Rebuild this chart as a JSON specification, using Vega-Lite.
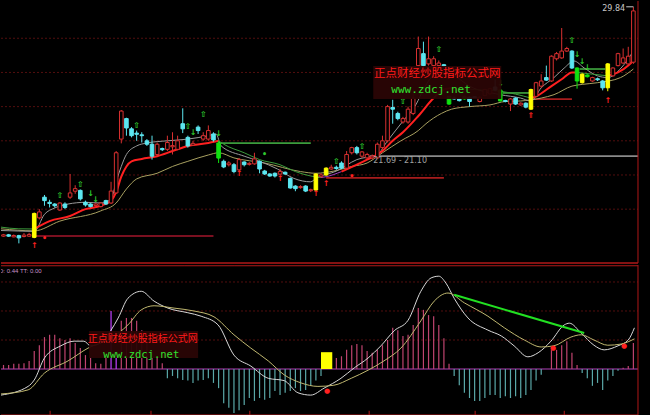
{
  "$schema": "https://vega.github.io/schema/vega-lite/v6.json",
  "background": "#000000",
  "padding": 0,
  "spacing": 0,
  "config": {"view": {"stroke": null}, "scale": {"continuousPadding": 0}},
  "datasets": {
    "candles": [
      {"i":0,"o":16.42,"c":16.5,"h":16.55,"l":16.38,"k":"up"},
      {"i":1,"o":16.5,"c":16.42,"h":16.55,"l":16.38,"k":"dn"},
      {"i":2,"o":16.38,"c":16.46,"h":16.52,"l":16.35,"k":"up"},
      {"i":3,"o":16.45,"c":16.32,"h":16.5,"l":16.0,"k":"dn"},
      {"i":4,"o":16.4,"c":16.48,"h":16.6,"l":16.35,"k":"up"},
      {"i":5,"o":16.42,"c":16.52,"h":16.62,"l":16.38,"k":"up"},
      {"i":6,"o":16.35,"c":17.75,"h":17.8,"l":16.3,"k":"yl"},
      {"i":7,"o":17.49,"c":17.84,"h":18.0,"l":17.4,"k":"up"},
      {"i":8,"o":18.7,"c":18.5,"h":18.83,"l":18.2,"k":"dn"},
      {"i":9,"o":18.4,"c":18.33,"h":18.55,"l":18.1,"k":"dn"},
      {"i":10,"o":18.3,"c":18.2,"h":18.35,"l":18.1,"k":"dn"},
      {"i":11,"o":17.95,"c":18.36,"h":18.4,"l":17.9,"k":"up"},
      {"i":12,"o":18.3,"c":18.1,"h":18.4,"l":18.0,"k":"dn"},
      {"i":13,"o":18.7,"c":18.95,"h":20.06,"l":18.6,"k":"up"},
      {"i":14,"o":19.05,"c":19.2,"h":19.4,"l":18.9,"k":"up"},
      {"i":15,"o":19.1,"c":18.6,"h":19.15,"l":18.5,"k":"dn"},
      {"i":16,"o":18.4,"c":18.25,"h":18.5,"l":18.15,"k":"dn"},
      {"i":17,"o":18.3,"c":18.15,"h":18.35,"l":18.1,"k":"dn"},
      {"i":18,"o":18.22,"c":18.3,"h":18.35,"l":18.2,"k":"up"},
      {"i":19,"o":18.15,"c":18.36,"h":18.4,"l":18.1,"k":"up"},
      {"i":20,"o":18.5,"c":18.3,"h":18.55,"l":18.25,"k":"dn"},
      {"i":21,"o":18.36,"c":19.06,"h":19.6,"l":18.3,"k":"up"},
      {"i":22,"o":18.95,"c":21.3,"h":21.4,"l":18.9,"k":"up"},
      {"i":23,"o":22.1,"c":23.74,"h":23.8,"l":21.85,"k":"up"},
      {"i":24,"o":23.3,"c":22.75,"h":23.35,"l":22.3,"k":"dn"},
      {"i":25,"o":22.7,"c":22.3,"h":22.8,"l":22.2,"k":"dn"},
      {"i":26,"o":22.45,"c":22.38,"h":22.6,"l":22.0,"k":"dn"},
      {"i":27,"o":22.35,"c":22.3,"h":22.5,"l":21.9,"k":"dn"},
      {"i":28,"o":22.0,"c":21.8,"h":22.1,"l":21.7,"k":"dn"},
      {"i":29,"o":21.8,"c":21.1,"h":22.3,"l":20.9,"k":"dn"},
      {"i":30,"o":21.2,"c":21.8,"h":21.9,"l":21.1,"k":"up"},
      {"i":31,"o":21.55,"c":21.48,"h":21.6,"l":21.4,"k":"dn"},
      {"i":32,"o":21.5,"c":21.9,"h":22.3,"l":21.4,"k":"up"},
      {"i":33,"o":21.65,"c":21.72,"h":22.5,"l":21.2,"k":"up"},
      {"i":34,"o":21.5,"c":22.0,"h":22.3,"l":21.45,"k":"up"},
      {"i":35,"o":23.0,"c":22.7,"h":23.9,"l":22.45,"k":"dn"},
      {"i":36,"o":22.2,"c":21.7,"h":22.3,"l":21.6,"k":"dn"},
      {"i":37,"o":21.75,"c":21.85,"h":22.0,"l":21.7,"k":"up"},
      {"i":38,"o":22.8,"c":22.6,"h":22.9,"l":22.4,"k":"dn"},
      {"i":39,"o":22.1,"c":22.3,"h":22.5,"l":22.0,"k":"up"},
      {"i":40,"o":22.1,"c":22.6,"h":22.9,"l":22.0,"k":"up"},
      {"i":41,"o":22.4,"c":22.05,"h":22.5,"l":21.95,"k":"dn"},
      {"i":42,"o":21.87,"c":20.99,"h":22.0,"l":20.7,"k":"gr"},
      {"i":43,"o":20.8,"c":20.47,"h":20.9,"l":20.4,"k":"dn"},
      {"i":44,"o":20.6,"c":20.7,"h":20.8,"l":20.5,"k":"up"},
      {"i":45,"o":20.6,"c":20.2,"h":20.7,"l":20.1,"k":"dn"},
      {"i":46,"o":20.3,"c":20.9,"h":21.0,"l":20.25,"k":"up"},
      {"i":47,"o":20.76,"c":20.6,"h":20.8,"l":20.5,"k":"dn"},
      {"i":48,"o":20.62,"c":20.68,"h":20.75,"l":20.55,"k":"up"},
      {"i":49,"o":20.65,"c":20.94,"h":21.3,"l":20.6,"k":"up"},
      {"i":50,"o":20.8,"c":20.35,"h":20.85,"l":20.1,"k":"dn"},
      {"i":51,"o":20.23,"c":20.06,"h":20.3,"l":20.0,"k":"dn"},
      {"i":52,"o":20.06,"c":19.94,"h":20.1,"l":19.9,"k":"dn"},
      {"i":53,"o":20.1,"c":19.94,"h":20.15,"l":19.85,"k":"dn"},
      {"i":54,"o":20.05,"c":20.2,"h":20.35,"l":20.0,"k":"up"},
      {"i":55,"o":20.16,"c":20.06,"h":20.2,"l":20.0,"k":"dn"},
      {"i":56,"o":19.8,"c":19.24,"h":19.85,"l":19.2,"k":"dn"},
      {"i":57,"o":19.35,"c":19.2,"h":19.4,"l":19.05,"k":"dn"},
      {"i":58,"o":19.26,"c":19.32,"h":19.4,"l":19.2,"k":"up"},
      {"i":59,"o":19.35,"c":19.06,"h":19.4,"l":19.0,"k":"dn"},
      {"i":60,"o":19.08,"c":19.14,"h":19.2,"l":19.0,"k":"up"},
      {"i":61,"o":19.12,"c":20.06,"h":20.1,"l":19.05,"k":"yl"},
      {"i":62,"o":19.9,"c":20.0,"h":20.1,"l":19.85,"k":"up"},
      {"i":63,"o":20.0,"c":20.4,"h":20.45,"l":19.95,"k":"yl"},
      {"i":64,"o":20.35,"c":20.45,"h":20.6,"l":20.3,"k":"up"},
      {"i":65,"o":20.45,"c":20.38,"h":20.55,"l":20.3,"k":"dn"},
      {"i":66,"o":20.7,"c":20.4,"h":20.8,"l":20.35,"k":"dn"},
      {"i":67,"o":20.4,"c":21.2,"h":21.4,"l":20.35,"k":"up"},
      {"i":68,"o":21.3,"c":21.6,"h":21.65,"l":21.2,"k":"up"},
      {"i":69,"o":21.6,"c":21.3,"h":21.7,"l":21.2,"k":"dn"},
      {"i":70,"o":21.1,"c":21.35,"h":21.4,"l":21.0,"k":"up"},
      {"i":71,"o":21.0,"c":21.2,"h":21.3,"l":20.95,"k":"up"},
      {"i":72,"o":21.0,"c":21.1,"h":21.2,"l":20.9,"k":"up"},
      {"i":73,"o":21.0,"c":21.8,"h":21.9,"l":20.95,"k":"up"},
      {"i":74,"o":21.6,"c":22.0,"h":22.3,"l":21.5,"k":"up"},
      {"i":75,"o":22.0,"c":24.0,"h":24.1,"l":21.9,"k":"up"},
      {"i":76,"o":23.95,"c":23.85,"h":24.4,"l":23.0,"k":"dn"},
      {"i":77,"o":23.6,"c":23.3,"h":23.7,"l":23.2,"k":"dn"},
      {"i":78,"o":23.1,"c":23.3,"h":23.4,"l":23.0,"k":"up"},
      {"i":79,"o":23.1,"c":23.85,"h":24.0,"l":23.0,"k":"up"},
      {"i":80,"o":23.6,"c":24.5,"h":25.0,"l":23.5,"k":"up"},
      {"i":81,"o":26.4,"c":27.4,"h":28.1,"l":26.3,"k":"up"},
      {"i":82,"o":27.1,"c":26.4,"h":27.8,"l":26.3,"k":"dn"},
      {"i":83,"o":26.5,"c":26.8,"h":28.1,"l":26.4,"k":"up"},
      {"i":84,"o":26.4,"c":26.8,"h":26.95,"l":26.3,"k":"up"},
      {"i":85,"o":26.4,"c":26.55,"h":26.7,"l":26.3,"k":"up"},
      {"i":86,"o":26.45,"c":26.38,"h":26.5,"l":26.3,"k":"dn"},
      {"i":87,"o":24.6,"c":24.15,"h":24.65,"l":24.1,"k":"gr"},
      {"i":88,"o":24.5,"c":24.45,"h":24.6,"l":24.4,"k":"dn"},
      {"i":89,"o":24.45,"c":24.35,"h":24.5,"l":24.3,"k":"dn"},
      {"i":90,"o":24.6,"c":24.45,"h":24.65,"l":24.4,"k":"gr"},
      {"i":91,"o":24.55,"c":24.3,"h":24.6,"l":24.0,"k":"dn"},
      {"i":92,"o":24.58,"c":24.52,"h":24.6,"l":24.5,"k":"dn"},
      {"i":93,"o":24.3,"c":24.55,"h":24.6,"l":24.25,"k":"up"},
      {"i":94,"o":24.65,"c":25.0,"h":25.05,"l":24.6,"k":"up"},
      {"i":95,"o":24.75,"c":25.05,"h":25.1,"l":24.7,"k":"up"},
      {"i":96,"o":25.15,"c":24.97,"h":25.6,"l":24.9,"k":"dn"},
      {"i":97,"o":24.97,"c":24.33,"h":25.0,"l":24.3,"k":"gr"},
      {"i":98,"o":24.36,"c":24.3,"h":24.4,"l":24.25,"k":"dn"},
      {"i":99,"o":24.15,"c":24.45,"h":24.5,"l":23.74,"k":"up"},
      {"i":100,"o":24.5,"c":24.15,"h":24.55,"l":24.1,"k":"dn"},
      {"i":101,"o":24.1,"c":24.2,"h":24.25,"l":24.05,"k":"up"},
      {"i":102,"o":24.2,"c":23.97,"h":24.25,"l":23.9,"k":"dn"},
      {"i":103,"o":23.85,"c":25.0,"h":25.05,"l":23.8,"k":"yl"},
      {"i":104,"o":24.6,"c":25.4,"h":25.45,"l":24.55,"k":"up"},
      {"i":105,"o":25.2,"c":25.5,"h":25.9,"l":25.1,"k":"up"},
      {"i":106,"o":25.7,"c":25.55,"h":26.4,"l":25.5,"k":"dn"},
      {"i":107,"o":25.5,"c":26.95,"h":27.0,"l":25.45,"k":"up"},
      {"i":108,"o":26.8,"c":27.1,"h":27.2,"l":26.7,"k":"up"},
      {"i":109,"o":26.85,"c":27.25,"h":28.6,"l":26.8,"k":"up"},
      {"i":110,"o":27.25,"c":27.4,"h":27.5,"l":27.2,"k":"up"},
      {"i":111,"o":27.25,"c":26.26,"h":27.3,"l":26.2,"k":"dn"},
      {"i":112,"o":26.26,"c":25.5,"h":26.3,"l":25.05,"k":"gr"},
      {"i":113,"o":25.4,"c":25.9,"h":25.95,"l":25.35,"k":"yl"},
      {"i":114,"o":25.85,"c":25.75,"h":25.9,"l":25.7,"k":"gr"},
      {"i":115,"o":25.5,"c":25.7,"h":25.75,"l":25.45,"k":"up"},
      {"i":116,"o":25.63,"c":25.57,"h":25.7,"l":25.5,"k":"dn"},
      {"i":117,"o":25.5,"c":25.1,"h":25.55,"l":24.95,"k":"dn"},
      {"i":118,"o":25.1,"c":26.5,"h":26.55,"l":24.9,"k":"yl"},
      {"i":119,"o":25.8,"c":26.26,"h":26.3,"l":25.75,"k":"up"},
      {"i":120,"o":26.4,"c":27.1,"h":27.15,"l":26.35,"k":"up"},
      {"i":121,"o":26.55,"c":26.85,"h":27.4,"l":26.5,"k":"up"},
      {"i":122,"o":26.5,"c":26.95,"h":27.5,"l":26.45,"k":"up"},
      {"i":123,"o":26.6,"c":29.6,"h":29.84,"l":26.5,"k":"up"}
    ]
  },
  "vconcat": [
    {
      "width": 650,
      "height": 262,
      "resolve": {"scale": {"color": "independent", "fill": "independent", "stroke": "independent", "strokeWidth": "independent"}},
      "layer": [
        {
          "data": {"values": [
            {"a":-0.49,"b":123.9,"p":18,"k":"grid"},{"a":-0.49,"b":123.9,"p":20,"k":"grid"},{"a":-0.49,"b":123.9,"p":22,"k":"grid"},
            {"a":-0.49,"b":123.9,"p":24,"k":"grid"},{"a":-0.49,"b":123.9,"p":26,"k":"grid"},{"a":-0.49,"b":123.9,"p":28,"k":"grid"}
          ]},
          "mark": {"type": "rule", "color": "#520e0e", "strokeDash": [2, 2], "strokeWidth": 1},
          "encoding": {
            "x": {"field": "a", "type": "quantitative", "axis": null,
              "scale": {"domain": [-0.49, 126.44], "nice": false, "zero": false, "padding": 0}},
            "x2": {"field": "b"},
            "y": {"field": "p", "type": "quantitative",
              "scale": {"domain": [14.85, 30.18], "nice": false, "zero": false},
              "axis": {"orient": "right", "offset": -13, "title": null, "values": [16,17,18,19,20,21,22,23,24,25,26,27,28,29,30],
                "labelColor": "#c83c3c", "labelFontSize": 9, "labelFont": "DejaVu Sans", "tickColor": "#b01818", "tickSize": 3, "labelPadding": 2,
                "domainColor": "#b01818", "grid": false, "labelOverlap": false}}
          }
        },
        {
          "data": {"values": [
            {"a":6,"b":41,"p":16.43,"k":"base"},
            {"a":42,"b":60,"p":21.87,"k":"top"},
            {"a":63,"b":86,"p":19.83,"k":"sup"},
            {"a":71.5,"b":123.9,"p":21.1,"k":"mid"},
            {"a":103,"b":111,"p":24.44,"k":"sup"},
            {"a":97.5,"b":103,"p":24.8,"k":"top"},
            {"a":112.5,"b":117.5,"p":26.2,"k":"top"},
            {"a":-0.49,"b":123.9,"p":14.85,"k":"frame"}
          ]},
          "mark": {"type": "rule"},
          "encoding": {
            "x": {"field": "a", "type": "quantitative", "axis": null},
            "x2": {"field": "b"},
            "y": {"field": "p", "type": "quantitative", "axis": null},
            "color": {"field": "k", "type": "nominal", "legend": null,
              "scale": {"domain": ["base","sup","top","mid","frame"], "range": ["#7a1020","#a81c1c","#3c9c3c","#8a8a8a","#b01818"]}},
            "strokeWidth": {"field": "k", "type": "nominal", "legend": null,
              "scale": {"domain": ["base","sup","top","mid","frame"], "range": [2, 1.5, 1, 1, 1]}}
          }
        },
        {
          "data": {"values": [{"x":123.9,"y1":14.85,"y2":30.18}]},
          "mark": {"type": "rule", "color": "#b01818", "strokeWidth": 1},
          "encoding": {
            "x": {"field": "x", "type": "quantitative", "axis": null},
            "y": {"field": "y1", "type": "quantitative", "axis": null},
            "y2": {"field": "y2"}
          }
        },
        {
          "data": {"values": [
            {"i":-0.5,"v":16.85},{"i":6,"v":16.73},{"i":11,"v":17.3},{"i":19,"v":17.9},{"i":22,"v":18.36},{"i":24,"v":19.18},
            {"i":26,"v":19.77},{"i":30,"v":20.1},{"i":33,"v":20.5},{"i":36,"v":20.8},{"i":40,"v":21.17},{"i":42,"v":21.3},
            {"i":45,"v":21.0},{"i":51,"v":20.7},{"i":58,"v":20.2},{"i":61,"v":20.1},{"i":64.5,"v":20.23},{"i":68,"v":20.5},
            {"i":71,"v":20.7},{"i":74,"v":21.3},{"i":77.6,"v":22.0},{"i":81,"v":22.6},{"i":82.5,"v":23.0},{"i":85.5,"v":23.6},
            {"i":87.5,"v":23.85},{"i":91,"v":24.0},{"i":95,"v":24.1},{"i":98,"v":24.3},{"i":101,"v":24.33},{"i":105,"v":24.5},
            {"i":107.5,"v":24.7},{"i":111,"v":25.2},{"i":113,"v":25.3},{"i":116,"v":25.4},{"i":120.5,"v":25.7},{"i":123,"v":26.2}
          ]},
          "mark": {"type": "line", "color": "#a8a060", "strokeWidth": 1, "interpolate": "monotone", "clip": true},
          "encoding": {
            "x": {"field": "i", "type": "quantitative", "axis": null},
            "y": {"field": "v", "type": "quantitative", "axis": null}
          }
        },
        {
          "data": {"values": [
            {"i":-0.5,"v":16.75},{"i":3,"v":16.72},{"i":6,"v":16.7},{"i":8,"v":17.7},{"i":10,"v":18.07},{"i":12.6,"v":18.3},
            {"i":16,"v":18.4},{"i":19,"v":18.36},{"i":21,"v":18.6},{"i":22,"v":19.6},{"i":23,"v":20.5},{"i":24,"v":21.2},
            {"i":26,"v":21.7},{"i":28,"v":21.87},{"i":32,"v":22.0},{"i":36,"v":22.1},{"i":40,"v":22.3},{"i":41.5,"v":22.4},
            {"i":42.5,"v":21.7},{"i":47,"v":21.1},{"i":50,"v":20.8},{"i":53.5,"v":20.35},{"i":56.7,"v":19.8},{"i":60,"v":19.6},
            {"i":61,"v":19.8},{"i":65,"v":20.23},{"i":69,"v":20.9},{"i":73,"v":21.2},{"i":75,"v":22.0},{"i":78,"v":23.15},
            {"i":80.6,"v":24.15},{"i":82,"v":25.0},{"i":83,"v":25.5},{"i":85,"v":26.0},{"i":88,"v":25.8},{"i":91,"v":25.2},
            {"i":97,"v":24.7},{"i":101,"v":24.5},{"i":103,"v":24.33},{"i":105,"v":25.1},{"i":107.5,"v":25.7},{"i":109.5,"v":26.26},
            {"i":111.4,"v":26.67},{"i":113.4,"v":26.26},{"i":116,"v":25.8},{"i":118,"v":25.7},{"i":120.6,"v":26.26},{"i":123,"v":27.25}
          ]},
          "mark": {"type": "line", "color": "#9a9a9a", "strokeWidth": 1, "interpolate": "monotone", "clip": true},
          "encoding": {
            "x": {"field": "i", "type": "quantitative", "axis": null},
            "y": {"field": "v", "type": "quantitative", "axis": null}
          }
        },
        {
          "data": {"values": [
            {"i":-0.5,"v":16.95,"s":"e","c":"g"},{"i":3,"v":16.85,"s":"e","c":"g"},{"i":6,"v":16.84,"s":"e","c":"g"},
            {"i":42,"v":22.0,"s":"f","c":"g"},{"i":43,"v":21.8,"s":"f","c":"g"},{"i":47,"v":21.3,"s":"f","c":"g"},{"i":50,"v":20.9,"s":"f","c":"g"},
            {"i":54,"v":20.6,"s":"f","c":"g"},{"i":57,"v":20.2,"s":"f","c":"g"},{"i":60,"v":19.94,"s":"f","c":"g"},{"i":62,"v":19.85,"s":"f","c":"g"},
            {"i":62,"v":19.85,"s":"g","c":"p"},{"i":63,"v":19.9,"s":"g","c":"p"},{"i":66,"v":20.2,"s":"g","c":"p"},
            {"i":88,"v":25.1,"s":"h","c":"g"},{"i":92,"v":25.0,"s":"h","c":"g"},{"i":97,"v":24.9,"s":"h","c":"g"},{"i":103,"v":24.5,"s":"h","c":"g"},
            {"i":112,"v":26.0,"s":"j","c":"g"},{"i":115,"v":25.9,"s":"j","c":"g"},{"i":118,"v":25.8,"s":"j","c":"g"}
          ]},
          "mark": {"type": "line", "strokeWidth": 1, "interpolate": "monotone", "clip": true},
          "encoding": {
            "x": {"field": "i", "type": "quantitative", "axis": null},
            "y": {"field": "v", "type": "quantitative", "axis": null},
            "detail": {"field": "s", "type": "nominal"},
            "color": {"field": "c", "type": "nominal", "legend": null,
              "scale": {"domain": ["g","p"], "range": ["#3c9c3c","#a040c0"]}}
          }
        },
        {
          "data": {"values": [
            {"i":6,"v":16.84,"s":"a"},{"i":9,"v":17.3,"s":"a"},{"i":13,"v":17.6,"s":"a"},{"i":16,"v":18.0,"s":"a"},{"i":19,"v":18.2,"s":"a"},
            {"i":21,"v":18.5,"s":"a"},{"i":22,"v":19.0,"s":"a"},{"i":23,"v":19.9,"s":"a"},{"i":24,"v":20.5,"s":"a"},{"i":25,"v":20.8,"s":"a"},
            {"i":27,"v":20.94,"s":"a"},{"i":30,"v":21.1,"s":"a"},{"i":33,"v":21.4,"s":"a"},{"i":36,"v":21.7,"s":"a"},{"i":40,"v":21.87,"s":"a"},{"i":42,"v":22.0,"s":"a"},
            {"i":66,"v":20.2,"s":"b"},{"i":71,"v":20.9,"s":"b"},{"i":74,"v":21.4,"s":"b"},{"i":76,"v":22.0,"s":"b"},{"i":78,"v":22.5,"s":"b"},
            {"i":81,"v":23.45,"s":"b"},{"i":84,"v":24.5,"s":"b"},{"i":86,"v":25.0,"s":"b"},{"i":88,"v":25.1,"s":"b"},
            {"i":103,"v":24.5,"s":"c"},{"i":104,"v":24.6,"s":"c"},{"i":107,"v":25.2,"s":"c"},{"i":109,"v":25.6,"s":"c"},{"i":111,"v":26.0,"s":"c"},{"i":112,"v":26.0,"s":"c"},
            {"i":118,"v":25.8,"s":"d"},{"i":120,"v":26.0,"s":"d"},{"i":122,"v":26.4,"s":"d"},{"i":123,"v":26.7,"s":"d"}
          ]},
          "mark": {"type": "line", "color": "#ff2020", "strokeWidth": 2, "interpolate": "monotone", "clip": true},
          "encoding": {
            "x": {"field": "i", "type": "quantitative", "axis": null},
            "y": {"field": "v", "type": "quantitative", "axis": null},
            "detail": {"field": "s", "type": "nominal"}
          }
        },
        {
          "data": {"name": "candles"},
          "mark": {"type": "rule", "strokeWidth": 1},
          "encoding": {
            "x": {"field": "i", "type": "quantitative", "axis": null},
            "y": {"field": "l", "type": "quantitative", "axis": null},
            "y2": {"field": "h"},
            "color": {"field": "k", "type": "nominal", "legend": null,
              "scale": {"domain": ["up","dn","yl","gr"], "range": ["#d83030","#5ce6f0","#ffff00","#10e010"]}}
          }
        },
        {
          "data": {"name": "candles"},
          "mark": {"type": "bar", "orient": "vertical", "width": 3.6, "strokeWidth": 1},
          "encoding": {
            "x": {"field": "i", "type": "quantitative", "axis": null},
            "y": {"field": "o", "type": "quantitative", "axis": null},
            "y2": {"field": "c"},
            "fill": {"field": "k", "type": "nominal", "legend": null,
              "scale": {"domain": ["up","dn","yl","gr"], "range": ["#000000","#5ce6f0","#ffff00","#10e010"]}},
            "stroke": {"field": "k", "type": "nominal", "legend": null,
              "scale": {"domain": ["up","dn","yl","gr"], "range": ["#d83030","#5ce6f0","#ffff00","#10e010"]}}
          }
        },
        {
          "data": {"values": [
            {"i":11,"p":18.77,"t":"⇧","k":"g"},{"i":15,"p":19.42,"t":"⇧","k":"g"},{"i":17,"p":18.88,"t":"↓","k":"g"},{"i":18,"p":18.55,"t":"↓","k":"g"},
            {"i":26,"p":22.87,"t":"⇧","k":"g"},{"i":36,"p":22.8,"t":"⇧","k":"g"},{"i":37,"p":22.45,"t":"↓","k":"g"},{"i":39,"p":23.5,"t":"⇧","k":"g"},
            {"i":42,"p":22.4,"t":"↓","k":"g"},{"i":51,"p":21.17,"t":"•","k":"g"},{"i":65,"p":20.76,"t":"⇧","k":"g"},{"i":70,"p":21.64,"t":"⇧","k":"g"},
            {"i":78,"p":24.25,"t":"⇧","k":"g"},{"i":85,"p":27.3,"t":"⇧","k":"g"},{"i":97,"p":25.3,"t":"↓","k":"g"},{"i":111,"p":27.84,"t":"⇧","k":"g"},
            {"i":112,"p":27.0,"t":"↓","k":"g"},{"i":113,"p":26.62,"t":"↓","k":"g"},{"i":114,"p":26.24,"t":"↓","k":"g"},
            {"i":6,"p":15.85,"t":"↑","k":"r"},{"i":8,"p":16.26,"t":"•","k":"r"},{"i":46,"p":20.06,"t":"↑","k":"r"},{"i":54,"p":19.77,"t":"↑","k":"r"},
            {"i":61,"p":18.9,"t":"↑","k":"r"},{"i":63,"p":19.47,"t":"↑","k":"r"},{"i":103,"p":23.45,"t":"⇑","k":"r"},
            {"i":118,"p":24.33,"t":"↑","k":"r"},{"i":68,"p":19.88,"t":"•","k":"r"}
          ]},
          "mark": {"type": "text", "fontSize": 8, "font": "DejaVu Sans", "fontWeight": "bold", "baseline": "middle", "align": "center"},
          "encoding": {
            "x": {"field": "i", "type": "quantitative", "axis": null},
            "y": {"field": "p", "type": "quantitative", "axis": null},
            "text": {"field": "t"},
            "color": {"field": "k", "type": "nominal", "legend": null,
              "scale": {"domain": ["g","r"], "range": ["#2ec82e","#ff2020"]}}
          }
        },
        {
          "data": {"values": [{"i":72.2,"p":20.82,"t":"21.69 - 21.10"}]},
          "mark": {"type": "text", "fontSize": 8, "font": "DejaVu Sans", "color": "#a0a0a0", "align": "left", "baseline": "middle"},
          "encoding": {
            "x": {"field": "i", "type": "quantitative", "axis": null},
            "y": {"field": "p", "type": "quantitative", "axis": null},
            "text": {"field": "t"}
          }
        },
        {
          "data": {"values": [{"a":121.6,"b":123,"p":29.84}]},
          "mark": {"type": "rule", "color": "#c8c8c8", "strokeWidth": 1},
          "encoding": {
            "x": {"field": "a", "type": "quantitative", "axis": null},
            "x2": {"field": "b"},
            "y": {"field": "p", "type": "quantitative", "axis": null}
          }
        },
        {
          "data": {"values": [{"i":121.4,"p":29.7,"t":"29.84"}]},
          "mark": {"type": "text", "fontSize": 8, "font": "DejaVu Sans", "color": "#c8c8c8", "align": "right", "baseline": "middle"},
          "encoding": {
            "x": {"field": "i", "type": "quantitative", "axis": null},
            "y": {"field": "p", "type": "quantitative", "axis": null},
            "text": {"field": "t"}
          }
        },
        {
          "data": {"values": [{"a":72.2,"b":97.2,"p1":26.38,"p2":24.45}]},
          "mark": {"type": "rect", "color": "#2a0505", "opacity": 0.95},
          "encoding": {
            "x": {"field": "a", "type": "quantitative", "axis": null},
            "x2": {"field": "b"},
            "y": {"field": "p1", "type": "quantitative", "axis": null},
            "y2": {"field": "p2"}
          }
        },
        {
          "data": {"values": [{"i":84.7,"p":25.9,"t":"正点财经炒股指标公式网"}]},
          "mark": {"type": "text", "fontSize": 11.5, "font": "Noto Sans CJK SC", "color": "#ff1a1a", "align": "center", "baseline": "middle"},
          "encoding": {
            "x": {"field": "i", "type": "quantitative", "axis": null},
            "y": {"field": "p", "type": "quantitative", "axis": null},
            "text": {"field": "t"}
          }
        },
        {
          "data": {"values": [{"i":83.5,"p":24.97,"t":"www.zdcj.net"}]},
          "mark": {"type": "text", "fontSize": 11, "font": "DejaVu Sans Mono", "color": "#30e030", "align": "center", "baseline": "middle"},
          "encoding": {
            "x": {"field": "i", "type": "quantitative", "axis": null},
            "y": {"field": "p", "type": "quantitative", "axis": null},
            "text": {"field": "t"}
          }
        }
      ]
    },
    {
      "width": 650,
      "height": 150,
      "resolve": {"scale": {"color": "independent"}},
      "layer": [
        {
          "data": {"values": [
            {"a":-0.49,"b":123.9,"v":0.5,"k":"grid"},{"a":-0.49,"b":123.9,"v":1.0,"k":"grid"},{"a":-0.49,"b":123.9,"v":1.5,"k":"grid"},
            {"a":-0.49,"b":123.9,"v":0,"k":"zero"},{"a":-0.49,"b":123.9,"v":-0.793,"k":"frame"},{"a":-0.49,"b":123.9,"v":1.78,"k":"frame"}
          ]},
          "mark": {"type": "rule", "strokeWidth": 1},
          "encoding": {
            "x": {"field": "a", "type": "quantitative", "axis": null,
              "scale": {"domain": [-0.49, 126.44], "nice": false, "zero": false, "padding": 0}},
            "x2": {"field": "b"},
            "y": {"field": "v", "type": "quantitative",
              "scale": {"domain": [-0.793, 1.793], "nice": false, "zero": false},
              "axis": {"orient": "right", "offset": -13, "title": null, "values": [0, 0.25, 0.5, 0.75, 1.0, 1.25, 1.5], "format": ".2f",
                "labelColor": "#c83c3c", "labelFontSize": 9, "labelFont": "DejaVu Sans", "tickColor": "#b01818", "tickSize": 3, "labelPadding": 2,
                "domainColor": "#b01818", "grid": false, "labelOverlap": false}},
            "color": {"field": "k", "type": "nominal", "legend": null,
              "scale": {"domain": ["grid","zero","frame"], "range": ["#520e0e","#b040b8","#b01818"]}},
            "strokeDash": {"field": "k", "type": "nominal", "legend": null,
              "scale": {"domain": ["grid","zero","frame"], "range": [[2, 2], [1, 0], [1, 0]]}}
          }
        },
        {
          "data": {"values": [
            {"i":0,"v":0.07,"k":"pos"},{"i":1,"v":0.07,"k":"pos"},{"i":2,"v":0.09,"k":"pos"},{"i":3,"v":0.09,"k":"pos"},{"i":4,"v":0.1,"k":"pos"},
            {"i":5,"v":0.14,"k":"pos"},{"i":6,"v":0.31,"k":"pos"},{"i":7,"v":0.41,"k":"pos"},{"i":8,"v":0.55,"k":"pos"},{"i":9,"v":0.59,"k":"pos"},
            {"i":10,"v":0.59,"k":"pos"},{"i":11,"v":0.53,"k":"pos"},{"i":12,"v":0.5,"k":"pos"},{"i":13,"v":0.53,"k":"pos"},{"i":14,"v":0.45,"k":"pos"},
            {"i":15,"v":0.36,"k":"pos"},{"i":16,"v":0.24,"k":"pos"},{"i":17,"v":0.19,"k":"pos"},{"i":18,"v":0.1,"k":"pos"},{"i":19,"v":0.09,"k":"pos"},
            {"i":20,"v":0.19,"k":"pos"},{"i":21,"v":1.0,"k":"sig"},{"i":22,"v":0.3,"k":"sig"},{"i":23,"v":0.83,"k":"pos"},{"i":24,"v":0.88,"k":"pos"},
            {"i":25,"v":0.88,"k":"pos"},{"i":26,"v":0.83,"k":"pos"},{"i":27,"v":0.67,"k":"pos"},{"i":28,"v":0.48,"k":"pos"},{"i":29,"v":0.31,"k":"pos"},
            {"i":30,"v":0.19,"k":"pos"},{"i":31,"v":0.1,"k":"pos"},{"i":32,"v":-0.16,"k":"neg"},{"i":33,"v":-0.12,"k":"neg"},{"i":34,"v":-0.16,"k":"neg"},
            {"i":35,"v":-0.19,"k":"neg"},{"i":36,"v":-0.2,"k":"neg"},{"i":37,"v":-0.24,"k":"neg"},{"i":38,"v":-0.2,"k":"neg"},{"i":39,"v":-0.19,"k":"neg"},
            {"i":40,"v":-0.16,"k":"neg"},{"i":41,"v":-0.24,"k":"neg"},{"i":42,"v":-0.33,"k":"neg"},{"i":43,"v":-0.59,"k":"neg"},{"i":44,"v":-0.67,"k":"neg"},
            {"i":45,"v":-0.76,"k":"neg"},{"i":46,"v":-0.71,"k":"neg"},{"i":47,"v":-0.62,"k":"neg"},{"i":48,"v":-0.5,"k":"neg"},{"i":49,"v":-0.55,"k":"neg"},
            {"i":50,"v":-0.5,"k":"neg"},{"i":51,"v":-0.53,"k":"neg"},{"i":52,"v":-0.5,"k":"neg"},{"i":53,"v":-0.38,"k":"neg"},{"i":54,"v":-0.45,"k":"neg"},
            {"i":55,"v":-0.41,"k":"neg"},{"i":56,"v":-0.38,"k":"neg"},{"i":57,"v":-0.33,"k":"neg"},{"i":58,"v":-0.38,"k":"neg"},{"i":59,"v":-0.36,"k":"neg"},
            {"i":60,"v":-0.29,"k":"neg"},{"i":61,"v":-0.2,"k":"neg"},{"i":62,"v":-0.12,"k":"neg"},
            {"i":65,"v":0.19,"k":"pos"},{"i":66,"v":0.22,"k":"pos"},{"i":67,"v":0.33,"k":"pos"},{"i":68,"v":0.41,"k":"pos"},{"i":69,"v":0.43,"k":"pos"},
            {"i":70,"v":0.41,"k":"pos"},{"i":71,"v":0.31,"k":"pos"},{"i":72,"v":0.28,"k":"pos"},{"i":73,"v":0.33,"k":"pos"},{"i":74,"v":0.41,"k":"pos"},
            {"i":75,"v":0.5,"k":"pos"},{"i":76,"v":0.71,"k":"pos"},{"i":77,"v":0.67,"k":"pos"},{"i":78,"v":0.57,"k":"pos"},{"i":79,"v":0.59,"k":"pos"},
            {"i":80,"v":0.76,"k":"pos"},{"i":81,"v":1.05,"k":"pos"},{"i":82,"v":1.02,"k":"pos"},{"i":83,"v":0.93,"k":"pos"},{"i":84,"v":0.91,"k":"pos"},
            {"i":85,"v":0.76,"k":"pos"},{"i":86,"v":0.53,"k":"pos"},{"i":87,"v":0.09,"k":"pos"},{"i":88,"v":-0.12,"k":"neg"},{"i":89,"v":-0.28,"k":"neg"},
            {"i":90,"v":-0.41,"k":"neg"},{"i":91,"v":-0.5,"k":"neg"},{"i":92,"v":-0.55,"k":"neg"},{"i":93,"v":-0.55,"k":"neg"},{"i":94,"v":-0.5,"k":"neg"},
            {"i":95,"v":-0.45,"k":"neg"},{"i":96,"v":-0.45,"k":"neg"},{"i":97,"v":-0.5,"k":"neg"},{"i":98,"v":-0.47,"k":"neg"},{"i":99,"v":-0.5,"k":"neg"},
            {"i":100,"v":-0.47,"k":"neg"},{"i":101,"v":-0.5,"k":"neg"},{"i":102,"v":-0.45,"k":"neg"},{"i":103,"v":-0.36,"k":"neg"},{"i":104,"v":-0.2,"k":"neg"},
            {"i":105,"v":-0.1,"k":"neg"},{"i":107,"v":0.33,"k":"pos"},{"i":108,"v":0.33,"k":"pos"},{"i":109,"v":0.41,"k":"pos"},{"i":110,"v":0.48,"k":"pos"},
            {"i":111,"v":0.28,"k":"pos"},{"i":112,"v":0.07,"k":"pos"},{"i":113,"v":-0.07,"k":"neg"},{"i":114,"v":-0.16,"k":"neg"},{"i":115,"v":-0.29,"k":"neg"},
            {"i":116,"v":-0.24,"k":"neg"},{"i":117,"v":-0.36,"k":"neg"},{"i":118,"v":-0.2,"k":"neg"},{"i":119,"v":-0.12,"k":"neg"},{"i":120,"v":-0.03,"k":"neg"},
            {"i":121,"v":0.02,"k":"pos"},{"i":122,"v":0.05,"k":"pos"},{"i":123,"v":0.45,"k":"pos"}
          ]},
          "mark": {"type": "rule", "strokeWidth": 1.2},
          "encoding": {
            "x": {"field": "i", "type": "quantitative", "axis": null},
            "y": {"field": "v", "type": "quantitative", "axis": null},
            "y2": {"datum": 0},
            "color": {"field": "k", "type": "nominal", "legend": null,
              "scale": {"domain": ["pos","neg","sig"], "range": ["#c04470","#5aa8a8","#c040ff"]}}
          }
        },
        {
          "data": {"values": [{"x":123.9,"y1":-0.793,"y2":1.793}]},
          "mark": {"type": "rule", "color": "#b01818", "strokeWidth": 1},
          "encoding": {
            "x": {"field": "x", "type": "quantitative", "axis": null},
            "y": {"field": "y1", "type": "quantitative", "axis": null},
            "y2": {"field": "y2"}
          }
        },
        {
          "data": {"values": [{"a":62.0,"b":64.2,"v1":0,"v2":0.29}]},
          "mark": {"type": "rect", "color": "#ffff00"},
          "encoding": {
            "x": {"field": "a", "type": "quantitative", "axis": null},
            "x2": {"field": "b"},
            "y": {"field": "v1", "type": "quantitative", "axis": null},
            "y2": {"field": "v2"}
          }
        },
        {
          "data": {"values": [
            {"i":-0.5,"v":-0.45},{"i":4.8,"v":-0.3},{"i":6,"v":-0.19},{"i":8,"v":0.19},{"i":11.2,"v":0.4},{"i":13.8,"v":0.48},{"i":15.7,"v":0.48},
            {"i":17,"v":0.4},{"i":19,"v":0.45},{"i":21,"v":0.67},{"i":22.4,"v":0.88},{"i":24.3,"v":1.22},{"i":26.9,"v":1.34},{"i":29.4,"v":1.17},
            {"i":32.1,"v":1.05},{"i":36,"v":0.97},{"i":38.6,"v":0.91},{"i":41.9,"v":0.76},{"i":45,"v":0.24},{"i":48.3,"v":0.05},{"i":51.7,"v":-0.16},
            {"i":54.8,"v":-0.2},{"i":57.5,"v":-0.41},{"i":60,"v":-0.45},{"i":62.6,"v":-0.33},{"i":65.9,"v":-0.16},{"i":68.5,"v":0.02},{"i":71.2,"v":0.19},
            {"i":73.7,"v":0.4},{"i":76.3,"v":0.66},{"i":79,"v":0.84},{"i":81.5,"v":1.34},{"i":83.5,"v":1.57},{"i":85,"v":1.6},{"i":86.4,"v":1.48},
            {"i":88,"v":1.22},{"i":90.7,"v":0.88},{"i":94.6,"v":0.67},{"i":97.2,"v":0.57},{"i":99.7,"v":0.4},{"i":102.4,"v":0.21},{"i":104.4,"v":0.28},
            {"i":106.9,"v":0.48},{"i":109.5,"v":0.76},{"i":110.5,"v":0.79},{"i":112.8,"v":0.62},{"i":115.3,"v":0.41},{"i":117.3,"v":0.33},{"i":120,"v":0.4},
            {"i":122,"v":0.5},{"i":123.2,"v":0.71}
          ]},
          "mark": {"type": "line", "color": "#d8d8d8", "strokeWidth": 1, "interpolate": "monotone", "clip": true},
          "encoding": {
            "x": {"field": "i", "type": "quantitative", "axis": null},
            "y": {"field": "v", "type": "quantitative", "axis": null}
          }
        },
        {
          "data": {"values": [
            {"i":-0.5,"v":-0.43},{"i":4.8,"v":-0.36},{"i":8,"v":-0.07},{"i":12.6,"v":0.14},{"i":16.5,"v":0.36},{"i":21,"v":0.53},{"i":24.3,"v":0.76},
            {"i":26.9,"v":1.02},{"i":29.4,"v":1.09},{"i":33.3,"v":1.05},{"i":37.2,"v":1.0},{"i":41.1,"v":0.9},{"i":45,"v":0.59},{"i":48.3,"v":0.36},
            {"i":51.7,"v":0.14},{"i":54.8,"v":-0.1},{"i":58.1,"v":-0.24},{"i":61.4,"v":-0.3},{"i":64.5,"v":-0.28},{"i":67.9,"v":-0.16},{"i":71.2,"v":-0.02},
            {"i":74.3,"v":0.14},{"i":77.6,"v":0.36},{"i":81.5,"v":0.83},{"i":84.1,"v":1.17},{"i":86.8,"v":1.31},{"i":90,"v":1.14},{"i":94.6,"v":0.91},
            {"i":97.8,"v":0.71},{"i":101.7,"v":0.5},{"i":105,"v":0.38},{"i":107.5,"v":0.4},{"i":110.8,"v":0.55},{"i":112.8,"v":0.59},{"i":115.3,"v":0.5},
            {"i":118,"v":0.41},{"i":120.6,"v":0.43},{"i":123.2,"v":0.52}
          ]},
          "mark": {"type": "line", "color": "#c0b870", "strokeWidth": 1, "interpolate": "monotone", "clip": true},
          "encoding": {
            "x": {"field": "i", "type": "quantitative", "axis": null},
            "y": {"field": "v", "type": "quantitative", "axis": null}
          }
        },
        {
          "data": {"values": [{"i":88,"v":1.28},{"i":113.4,"v":0.62}]},
          "mark": {"type": "line", "color": "#22e022", "strokeWidth": 2},
          "encoding": {
            "x": {"field": "i", "type": "quantitative", "axis": null},
            "y": {"field": "v", "type": "quantitative", "axis": null}
          }
        },
        {
          "data": {"values": [{"i":63.2,"v":-0.38},{"i":107.3,"v":0.36},{"i":121.2,"v":0.4}]},
          "mark": {"type": "text", "text": "●", "fontSize": 7, "font": "DejaVu Sans", "color": "#ff2020", "align": "center", "baseline": "middle"},
          "encoding": {
            "x": {"field": "i", "type": "quantitative", "axis": null},
            "y": {"field": "v", "type": "quantitative", "axis": null}
          }
        },
        {
          "data": {"values": [{"i":9.1},{"i":28.8},{"i":48.1},{"i":71.4},{"i":92.1},{"i":109.5}]},
          "mark": {"type": "rule", "color": "#b01818", "strokeWidth": 1},
          "encoding": {
            "x": {"field": "i", "type": "quantitative", "axis": null},
            "y": {"datum": -0.72},
            "y2": {"datum": -0.793}
          }
        },
        {
          "data": {"values": [{"a":16.7,"b":38.0,"v1":0.655,"v2":0.19}]},
          "mark": {"type": "rect", "color": "#2a0505", "opacity": 0.95},
          "encoding": {
            "x": {"field": "a", "type": "quantitative", "axis": null},
            "x2": {"field": "b"},
            "y": {"field": "v1", "type": "quantitative", "axis": null},
            "y2": {"field": "v2"}
          }
        },
        {
          "data": {"values": [{"i":27.2,"v":0.52,"t":"正点财经炒股指标公式网"}]},
          "mark": {"type": "text", "fontSize": 10, "font": "Noto Sans CJK SC", "color": "#ff1a1a", "align": "center", "baseline": "middle"},
          "encoding": {
            "x": {"field": "i", "type": "quantitative", "axis": null},
            "y": {"field": "v", "type": "quantitative", "axis": null},
            "text": {"field": "t"}
          }
        },
        {
          "data": {"values": [{"i":26.9,"v":0.25,"t":"www.zdcj.net"}]},
          "mark": {"type": "text", "fontSize": 10.5, "font": "DejaVu Sans Mono", "color": "#30e030", "align": "center", "baseline": "middle"},
          "encoding": {
            "x": {"field": "i", "type": "quantitative", "axis": null},
            "y": {"field": "v", "type": "quantitative", "axis": null},
            "text": {"field": "t"}
          }
        },
        {
          "data": {"values": [{"i":-0.88,"v":1.69,"t":"D: 0.44  TT: 0.00"}]},
          "mark": {"type": "text", "fontSize": 6, "font": "Liberation Sans", "color": "#c890c8", "align": "left", "baseline": "middle", "clip": true},
          "encoding": {
            "x": {"field": "i", "type": "quantitative", "axis": null},
            "y": {"field": "v", "type": "quantitative", "axis": null},
            "text": {"field": "t"}
          }
        }
      ]
    }
  ]
}
